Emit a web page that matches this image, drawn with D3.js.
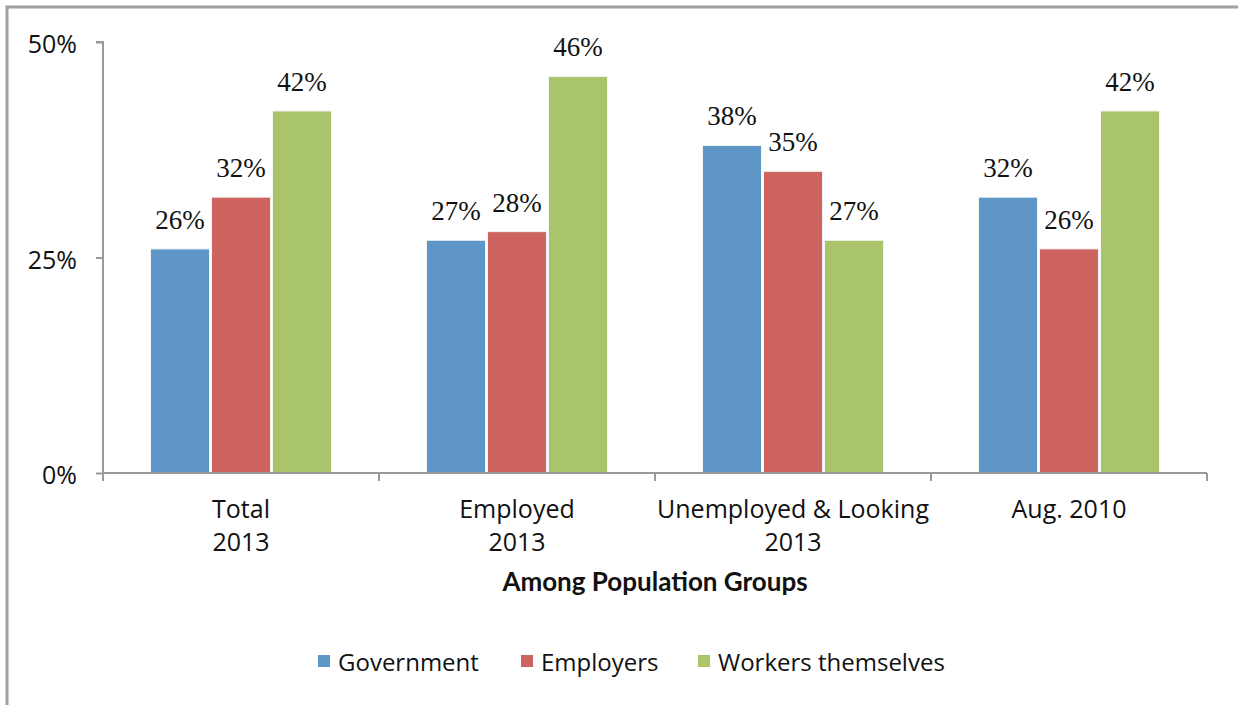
<!DOCTYPE html>
<html><head><meta charset="utf-8">
<script src="https://cdn.jsdelivr.net/npm/d3@7"></script>
<style>body{margin:0;background:#fff}</style>
</head><body>
<svg id="c" width="1238" height="705"></svg>
<script>
const categories = [["Total","2013"],["Employed","2013"],["Unemployed & Looking","2013"],["Aug. 2010"]];
const seriesNames = ["Government","Employers","Workers themselves"];
const government = [26,27,38,32];
const employers = [32,28,35,26];
const workers = [42,46,27,42];
const yTicks = [0,25,50];
const colors = ["#5F96C8","#CD645F","#AAC46B"];

(function(){
const svg = d3.select("#c");
const serifF = "'Liberation Serif','Times New Roman',serif";
const sansF = "'Open Sans','Lato',sans-serif";

// frame
svg.append("path").attr("d","M7,705 V7 H1238").attr("fill","none").attr("stroke","#a0a0a0").attr("stroke-width",3);

const pl=103, pr=1207, pt=42, pb=473;
const x = d3.scaleBand().domain(d3.range(categories.length)).range([pl,pr]).paddingInner(0).paddingOuter(0);
const y = d3.scaleLinear().domain([0,50]).range([pb,pt]);
const series=[government,employers,workers];
const barW=59, gap=2;
const xs = d3.scaleBand().domain(d3.range(3)).range([0,3*barW+2*gap]).paddingInner(gap/(barW+gap));

const g = svg.append("g");
categories.forEach((c,i)=>{
  const cx = x(i)+x.bandwidth()/2 - (3*barW+2*gap)/2;
  series.forEach((s,j)=>{
    g.append("rect").attr("x",cx+xs(j)).attr("y",y(s[i])).attr("width",xs.bandwidth()).attr("height",pb-y(s[i]))
      .attr("fill",colors[j]).attr("stroke","#f4f4f4").attr("stroke-width",1);
    g.append("text").attr("x",cx+xs(j)+xs.bandwidth()/2).attr("y",y(s[i])-20).attr("text-anchor","middle")
      .attr("font-family",serifF).attr("font-size",27).attr("fill","#111").text(s[i]+"%");
  });
});

// y axis
const ya = svg.append("g").attr("transform",`translate(${pl},0)`).call(d3.axisLeft(y).tickValues(yTicks).tickSize(7).tickPadding(19).tickFormat(d=>d+"%"));
ya.select(".domain").attr("stroke","#999").attr("stroke-width",2).attr("d",`M-7,${pt}H0V${pb}`);
ya.selectAll(".tick line").attr("stroke","#999").attr("stroke-width",2);
ya.selectAll(".tick text").attr("font-family",sansF).attr("font-size",25).attr("fill","#111").attr("dy","0.42em");

// x axis
svg.append("line").attr("x1",pl).attr("x2",pr).attr("y1",pb).attr("y2",pb).attr("stroke","#999").attr("stroke-width",2);
d3.range(categories.length+1).forEach(i=>{
  const xx = i<categories.length ? x(i) : pr;
  svg.append("line").attr("x1",xx).attr("x2",xx).attr("y1",pb).attr("y2",pb+8).attr("stroke","#999").attr("stroke-width",2);
});
categories.forEach((c,i)=>{
  const t = svg.append("text").attr("x",x(i)+x.bandwidth()/2).attr("y",518).attr("text-anchor","middle")
    .attr("font-family",sansF).attr("font-size",25).attr("fill","#111");
  c.forEach((line,k)=>t.append("tspan").attr("x",x(i)+x.bandwidth()/2).attr("dy",k?33:0).text(line));
});
svg.append("text").attr("x",655).attr("y",591).attr("text-anchor","middle").attr("font-family","Lato,'Liberation Sans',Arial,sans-serif")
  .attr("font-weight","bold").attr("font-size",26).attr("fill","#111").text("Among Population Groups");

// legend
const legX=[318,521,698];
seriesNames.forEach((n,j)=>{
  svg.append("rect").attr("x",legX[j]).attr("y",655).attr("width",12).attr("height",12).attr("fill",colors[j]);
  svg.append("text").attr("x",legX[j]+20).attr("y",671).attr("font-family",sansF).attr("font-size",24).attr("fill","#111").text(n);
});
})();
</script>
</body></html>
